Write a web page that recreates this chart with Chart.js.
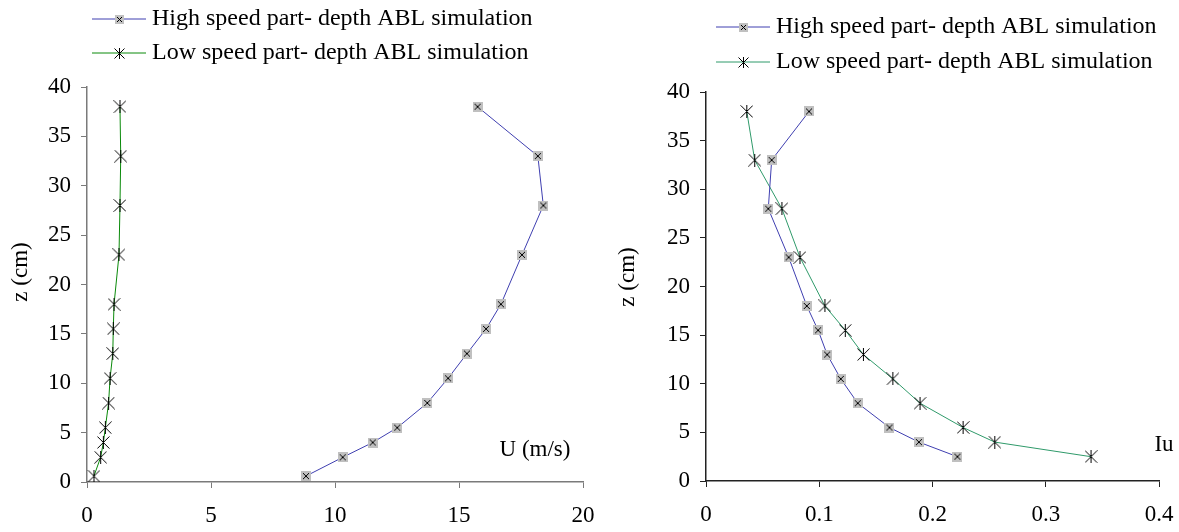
<!DOCTYPE html>
<html>
<head>
<meta charset="utf-8">
<script src="https://cdn.jsdelivr.net/npm/chart.js@4"></script>
<style>
  html, body { margin: 0; padding: 0; background: #fff; }
  #wrap { position: relative; width: 1179px; height: 532px; }
  canvas { position: absolute; top: 0; }
</style>
</head>
<body>
<div id="wrap">
  <canvas id="uChart" width="600" height="532" style="left:0"></canvas>
  <canvas id="iuChart" width="579" height="532" style="left:600px"></canvas>
</div>
<script>
// heights (cm) and measured values
const zU = [0.6, 2.5, 4, 5.5, 8, 10.5, 13, 15.5, 18, 23, 28, 33, 38];
const uHigh = [8.83, 10.31, 11.52, 12.51, 13.72, 14.56, 15.32, 16.09, 16.69, 17.54, 18.40, 18.18, 15.75];
const uLow = [0.28, 0.55, 0.66, 0.74, 0.87, 0.93, 1.04, 1.06, 1.09, 1.29, 1.33, 1.36, 1.33];

const zIu = [2.5, 4, 5.5, 8, 10.5, 13, 15.5, 18, 23, 28, 33, 38];
const iuHigh = [0.222, 0.188, 0.162, 0.134, 0.119, 0.107, 0.099, 0.089, 0.073, 0.055, 0.058, 0.091];
const iuLow = [0.340, 0.255, 0.227, 0.189, 0.165, 0.139, 0.123, 0.105, 0.083, 0.067, 0.043, 0.036];

const seriesNames = ['High speed part- depth ABL simulation', 'Low speed part- depth ABL simulation'];
const uTicks = [0, 5, 10, 15, 20];
const iuTicks = [0, 0.1, 0.2, 0.3, 0.4];
const zTicks = [0, 5, 10, 15, 20, 25, 30, 35, 40];

const FONT = "'Liberation Serif', 'Times New Roman', serif";
const FS = 23;

// marker images
function boxMark(s) {
  const c = document.createElement('canvas');
  c.width = c.height = s;
  const g = c.getContext('2d');
  g.fillStyle = '#c0c0c0';
  g.fillRect(0, 0, s, s);
  g.strokeStyle = '#000';
  g.lineWidth = 1;
  g.beginPath();
  g.moveTo(2, 2); g.lineTo(s - 2, s - 2);
  g.moveTo(s - 2, 2); g.lineTo(2, s - 2);
  g.stroke();
  return c;
}
function starMark(s) {
  const c = document.createElement('canvas');
  c.width = c.height = s;
  const g = c.getContext('2d');
  g.strokeStyle = '#000';
  g.lineWidth = 1;
  g.beginPath();
  g.moveTo(0.5, 0.5); g.lineTo(s - 0.5, s - 0.5);
  g.moveTo(s - 0.5, 0.5); g.lineTo(0.5, s - 0.5);
  g.moveTo(s / 2, 0); g.lineTo(s / 2, s);
  g.stroke();
  return c;
}

const pts = (xs, zs) => xs.map((v, i) => ({ x: v, y: zs[i] }));

// legend + free text drawn on the canvas
const decor = {
  id: 'decor',
  afterDraw(chart, args, opts) {
    const ctx = chart.ctx;
    ctx.save();
    ctx.font = opts.legendSize + 'px ' + FONT;
    ctx.textBaseline = 'middle';
    chart.data.datasets.forEach((ds, i) => {
      const y = opts.rows[i];
      ctx.strokeStyle = ds.borderColor;
      ctx.lineWidth = 1;
      ctx.beginPath();
      ctx.moveTo(opts.x1, y);
      ctx.lineTo(opts.x2, y);
      ctx.stroke();
      const m = opts.marks[i];
      ctx.drawImage(m, Math.round((opts.x1 + opts.x2) / 2 - m.width / 2), Math.round(y - m.height / 2));
      ctx.fillStyle = '#000';
      ctx.textAlign = 'left';
      ctx.fillText(ds.label, opts.tx, y);
    });
    ctx.font = FS + 'px ' + FONT;
    ctx.textAlign = 'center';
    opts.texts.forEach(t => {
      ctx.save();
      ctx.translate(t.x, t.y);
      if (t.rot) ctx.rotate(-Math.PI / 2);
      ctx.fillText(t.text, 0, 0);
      ctx.restore();
    });
    ctx.restore();
  }
};

function axis(ticks, color, fit, pad) {
  return {
    type: 'linear',
    min: ticks[0],
    max: ticks[ticks.length - 1],
    afterBuildTicks: s => { s.ticks = ticks.map(v => ({ value: v })); },
    afterFit: s => {
      fit(s);
      s.paddingLeft = s.paddingRight = s.paddingTop = s.paddingBottom = 0;
    },
    border: { color: color, width: 1.5 },
    grid: { drawOnChartArea: false, drawTicks: true, tickLength: 6, color: color, tickWidth: 1 },
    ticks: { color: '#000', font: { family: FONT, size: FS }, padding: pad, maxRotation: 0, autoSkip: false }
  };
}

function makeChart(id, xs1, xs2, zs1, zs2, xTicks, colors, axisColor, box, decorOpts) {
  return new Chart(document.getElementById(id), {
    type: 'scatter',
    data: {
      datasets: [
        { label: seriesNames[0], data: pts(xs1, zs1), showLine: true, borderColor: colors[0], borderWidth: 1,
          pointStyle: boxMark(10), tension: 0 },
        { label: seriesNames[1], data: pts(xs2, zs2), showLine: true, borderColor: colors[1], borderWidth: 1,
          pointStyle: starMark(13), tension: 0 }
      ]
    },
    options: {
      responsive: false,
      animation: false,
      layout: { padding: { top: box.top, right: box.right, left: 0, bottom: 0 } },
      plugins: { legend: { display: false }, tooltip: { enabled: false }, decor: decorOpts },
      scales: {
        x: axis(xTicks, axisColor, s => { s.height = box.xh; }, 14),
        y: axis(zTicks, axisColor, s => { s.width = box.yw; }, 10)
      }
    },
    plugins: [decor]
  });
}

makeChart('uChart', uHigh, uLow, zU, zU, uTicks, ['#3f3fb0', '#0a8a0a'], '#7a7a7a',
  { top: 87, right: 17, xh: 50, yw: 87 },
  { legendSize: 24, rows: [19, 53], x1: 92, x2: 146, tx: 152,
    marks: [boxMark(9), starMark(11)],
    texts: [{ text: 'z (cm)', x: 21, y: 272, rot: true }, { text: 'U (m/s)', x: 535, y: 450 }] });

makeChart('iuChart', iuHigh, iuLow, zIu, zIu, iuTicks, ['#3f3fb0', '#2f9a6a'], '#222',
  { top: 92, right: 20, xh: 51, yw: 106 },
  { legendSize: 24, rows: [27, 62], x1: 116, x2: 170, tx: 176,
    marks: [boxMark(9), starMark(11)],
    texts: [{ text: 'z (cm)', x: 28, y: 277, rot: true }, { text: 'Iu', x: 564, y: 445 }] });
</script>
</body>
</html>
